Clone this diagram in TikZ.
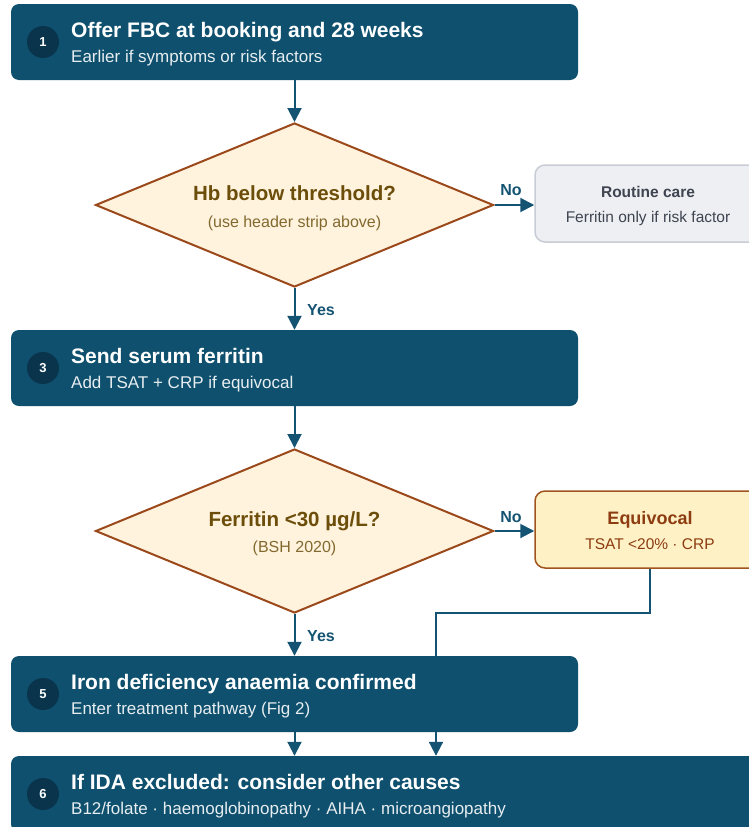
\documentclass[tikz,border=0pt]{standalone}
\usepackage{fontspec}
\setmainfont{Liberation Sans}
\usetikzlibrary{shapes.geometric,arrows.meta,backgrounds}
\definecolor{stepblue}{RGB}{14,80,110}
\definecolor{numblue}{RGB}{9,52,76}
\definecolor{linkblue}{RGB}{20,84,114}
\definecolor{askfill}{RGB}{255,243,222}
\definecolor{askline}{RGB}{155,72,26}
\definecolor{asktext}{RGB}{108,78,10}
\definecolor{routefill}{RGB}{237,239,243}
\definecolor{routeline}{RGB}{200,204,212}
\definecolor{routetext}{RGB}{62,68,80}
\definecolor{equivfill}{RGB}{255,241,198}
\definecolor{equivline}{RGB}{160,84,30}
\definecolor{equivtext}{RGB}{140,60,16}

\begin{document}
\begin{tikzpicture}[x=1pt,y=-1pt,
    stepbox/.style={fill=stepblue,rounded corners=8pt,minimum height=76pt,inner sep=0pt},
    numdot/.style={circle,fill=numblue,text=white,minimum size=32pt,inner sep=0pt,font=\fontsize{13}{15}\selectfont\bfseries},
    headline/.style={anchor=base west,text=white,inner sep=0pt,font=\fontsize{21}{24}\selectfont\bfseries},
    subline/.style={anchor=base west,text=white!90!stepblue,inner sep=0pt,font=\fontsize{17}{20}\selectfont},
    askbox/.style={diamond,draw=askline,fill=askfill,line width=2pt,minimum width=398pt,minimum height=164pt,inner sep=0pt},
    asktitle/.style={anchor=base,text=asktext,inner sep=0pt,font=\fontsize{20.5}{24}\selectfont\bfseries},
    asksub/.style={anchor=base,text=asktext!85!white,inner sep=0pt,font=\fontsize{16}{18}\selectfont},
    sidebox/.style={rounded corners=10pt,line width=1.5pt,minimum width=230pt,minimum height=77pt,inner sep=0pt},
    arr/.style={draw=linkblue,line width=2pt,-{Triangle[length=14pt,width=14pt]}},
    lab/.style={text=linkblue,inner sep=0pt,font=\fontsize{16}{18}\selectfont\bfseries}]

\useasboundingbox (0,0) rectangle (749,827);
\clip (0,0) rectangle (749,827);

\node[stepbox,minimum width=567pt] (offer) at (294.5,42) {};
\node[numdot] (n1) at (43,42) {1};
\node[headline] (offert) at (71,37) {Offer FBC at booking and 28 weeks};
\node[subline] (offers) at (71,62.5) {Earlier if symptoms or risk factors};

\node[askbox] (hb) at (294.5,205) {};
\node[asktitle] (hbt) at (294.5,200) {Hb below threshold?};
\node[asksub] (hbs) at (294.5,227.5) {(use header strip above)};

\node[sidebox,draw=routeline,fill=routefill] (routine) at (650,203.5) {};
\node[anchor=base,inner sep=0pt,text=routetext,font=\fontsize{15.5}{18}\selectfont\bfseries] (routinet) at (648,197.5) {Routine care};
\node[anchor=base,inner sep=0pt,text=routetext,font=\fontsize{15.5}{18}\selectfont] (routines) at (648,222.5) {Ferritin only if risk factor};

\node[stepbox,minimum width=567pt] (send) at (294.5,368) {};
\node[numdot] (n3) at (43,368) {3};
\node[headline] (sendt) at (71,363) {Send serum ferritin};
\node[subline] (sends) at (71,388.5) {Add TSAT + CRP if equivocal};

\node[askbox] (ferr) at (294.5,531) {};
\node[asktitle] (ferrt) at (294.5,526) {Ferritin <30 µg/L?};
\node[asksub] (ferrs) at (294.5,552) {(BSH 2020)};

\node[sidebox,draw=equivline,fill=equivfill] (equiv) at (650,529.5) {};
\node[anchor=base,inner sep=0pt,text=equivtext,font=\fontsize{18}{20}\selectfont\bfseries] (equivt) at (650,524) {Equivocal};
\node[anchor=base,inner sep=0pt,text=equivtext,font=\fontsize{15.5}{18}\selectfont] (equivs) at (650,549) {TSAT <20\% · CRP};

\node[stepbox,minimum width=567pt] (ida) at (294.5,694) {};
\node[numdot] (n5) at (43,694) {5};
\node[headline] (idat) at (71,689) {Iron deficiency anaemia confirmed};
\node[subline] (idas) at (71,714.5) {Enter treatment pathway (Fig 2)};

\node[stepbox,minimum width=760pt] (other) at (391,794) {};
\node[numdot] (n6) at (43,794) {6};
\node[headline] (othert) at (71,789) {If IDA excluded: consider other causes};
\node[subline] (others) at (71,814.5) {B12/folate · haemoglobinopathy · AIHA · microangiopathy};

\coordinate (bend) at (436,613);
\begin{scope}[on background layer]
  \draw[arr] (equiv.south) |- (bend) -- (bend |- other.north);
\end{scope}

\draw[arr] (offer.south) -- (hb.north);
\draw[arr] (hb.south) -- (send.north);
\draw[arr] (hb.east) -- (hb.east -| routine.west);
\draw[arr] (send.south) -- (ferr.north);
\draw[arr] (ferr.south) -- (ida.north);
\draw[arr] (ferr.east) -- (ferr.east -| equiv.west);
\draw[arr] (ida.south) -- (ida.south |- other.north);

\node[lab] (no1) at (511,190) {No};
\node[lab] (yes1) at (321,310) {Yes};
\node[lab] (no2) at (511,517) {No};
\node[lab] (yes2) at (321,636) {Yes};
\end{tikzpicture}
\end{document}
